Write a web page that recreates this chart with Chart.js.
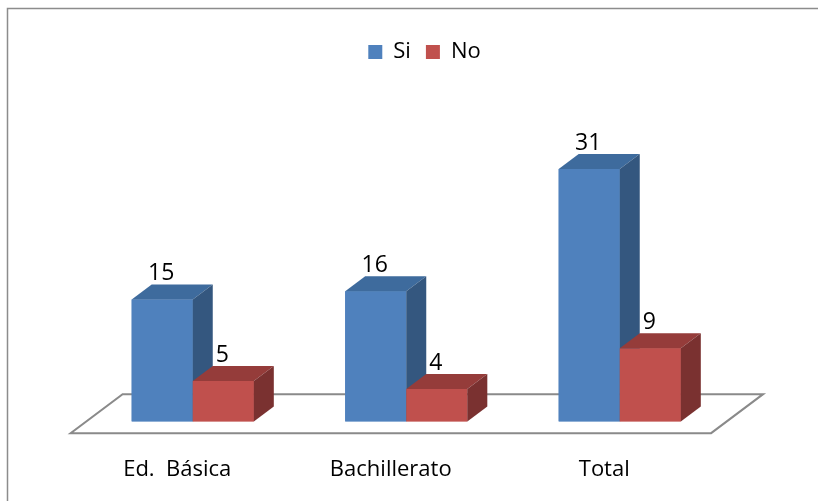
<!DOCTYPE html>
<html>
<head>
<meta charset="utf-8">
<script src="https://cdn.jsdelivr.net/npm/chart.js@4.4.1/dist/chart.umd.min.js"></script>
<style>
  html, body { margin: 0; padding: 0; background: #fff; }
</style>
</head>
<body>
<canvas id="chart" width="818" height="501"></canvas>
<script>
// data
const categories = ['Ed.  Básica', 'Bachillerato', 'Total'];
const seriesNames = ['Si', 'No'];
const siValues = [15, 16, 31];
const noValues = [5, 4, 9];

// colours for front, top and side faces
const faceColors = ['#4F81BD', '#C0504D'];
const topColors = ['#3E6B9D', '#953C3A'];
const sideColors = ['#34577F', '#7A3130'];

// depth of the fake 3d boxes
const DEPTH_X = 20, DEPTH_Y = 15;
const FONT = '"Open Sans", "Noto Sans", sans-serif';

const box3d = {
    id: 'box3d',
    beforeDraw(chart) {
        // outer chart border (only left and top are in view)
        const ctx = chart.ctx;
        ctx.save();
        ctx.strokeStyle = '#8c8c8c';
        ctx.lineWidth = 1.5;
        ctx.beginPath();
        ctx.moveTo(7.5, chart.height);
        ctx.lineTo(7.5, 8.5);
        ctx.lineTo(chart.width, 8.5);
        ctx.stroke();
        ctx.restore();
    },
    beforeDatasetsDraw(chart) {
        // floor
        const ctx = chart.ctx;
        const area = chart.chartArea;
        const base = chart.scales.y.getPixelForValue(0);
        const f = -0.77, b = 1.83;
        ctx.save();
        ctx.strokeStyle = '#8a8a8a';
        ctx.lineWidth = 2;
        ctx.fillStyle = '#fff';
        ctx.beginPath();
        ctx.moveTo(area.left + f * DEPTH_X, base - f * DEPTH_Y);
        ctx.lineTo(area.right + f * DEPTH_X, base - f * DEPTH_Y);
        ctx.lineTo(area.right + b * DEPTH_X, base - b * DEPTH_Y);
        ctx.lineTo(area.left + b * DEPTH_X, base - b * DEPTH_Y);
        ctx.closePath();
        ctx.fill();
        ctx.stroke();
        ctx.restore();
    },
    afterDatasetsDraw(chart) {
        const ctx = chart.ctx;
        // boxes: blue first, then red, so red fronts cover blue sides
        chart.data.datasets.forEach((ds, i) => {
            chart.getDatasetMeta(i).data.forEach(bar => {
                bar.draw(ctx);
                const p = bar.getProps(['x', 'y', 'base', 'width'], true);
                const l = p.x - p.width / 2, r = p.x + p.width / 2;
                ctx.save();
                ctx.fillStyle = topColors[i];
                ctx.beginPath();
                ctx.moveTo(l, p.y);
                ctx.lineTo(r, p.y);
                ctx.lineTo(r + DEPTH_X, p.y - DEPTH_Y);
                ctx.lineTo(l + DEPTH_X, p.y - DEPTH_Y);
                ctx.closePath();
                ctx.fill();
                ctx.fillStyle = sideColors[i];
                ctx.beginPath();
                ctx.moveTo(r, p.y);
                ctx.lineTo(r + DEPTH_X, p.y - DEPTH_Y);
                ctx.lineTo(r + DEPTH_X, p.base - DEPTH_Y);
                ctx.lineTo(r, p.base);
                ctx.closePath();
                ctx.fill();
                ctx.restore();
            });
        });

        // value labels above the boxes
        ctx.save();
        ctx.font = '23px ' + FONT;
        ctx.fillStyle = '#000';
        ctx.textAlign = 'center';
        ctx.textBaseline = 'alphabetic';
        chart.data.datasets.forEach((ds, i) => {
            chart.getDatasetMeta(i).data.forEach((bar, j) => {
                ctx.fillText(String(ds.data[j]), bar.x - 1, bar.y - DEPTH_Y - 4);
            });
        });
        ctx.restore();
    }
};

new Chart(document.getElementById('chart'), {
    type: 'bar',
    data: {
        labels: categories,
        datasets: [{
            label: seriesNames[0],
            data: siValues,
            backgroundColor: faceColors[0]
        }, {
            label: seriesNames[1],
            data: noValues,
            backgroundColor: faceColors[1]
        }]
    },
    options: {
        responsive: false,
        animation: false,
        devicePixelRatio: 1,
        datasets: {
            bar: { barPercentage: 1, categoryPercentage: 0.572 }
        },
        layout: {
            padding: { left: 86, right: 55, top: 26, bottom: 18 }
        },
        plugins: {
            legend: {
                position: 'top',
                labels: {
                    boxWidth: 14,
                    boxHeight: 14,
                    padding: 15,
                    color: '#000',
                    font: { family: FONT, size: 22 }
                }
            },
            tooltip: { enabled: false }
        },
        scales: {
            x: {
                grid: { display: false, drawTicks: false },
                border: { display: false },
                ticks: {
                    color: '#000',
                    font: { family: FONT, size: 22 },
                    padding: 35,
                    labelOffset: -15.5,
                    maxRotation: 0
                },
                afterFit: scale => { scale.height = 61.4; }
            },
            y: {
                position: 'right',
                min: 0,
                max: 42.8,
                grid: { display: false, drawTicks: false },
                border: { display: false },
                ticks: { display: false },
                afterFit: scale => { scale.width = 36.5; }
            }
        }
    },
    plugins: [box3d]
});
</script>
</body>
</html>
